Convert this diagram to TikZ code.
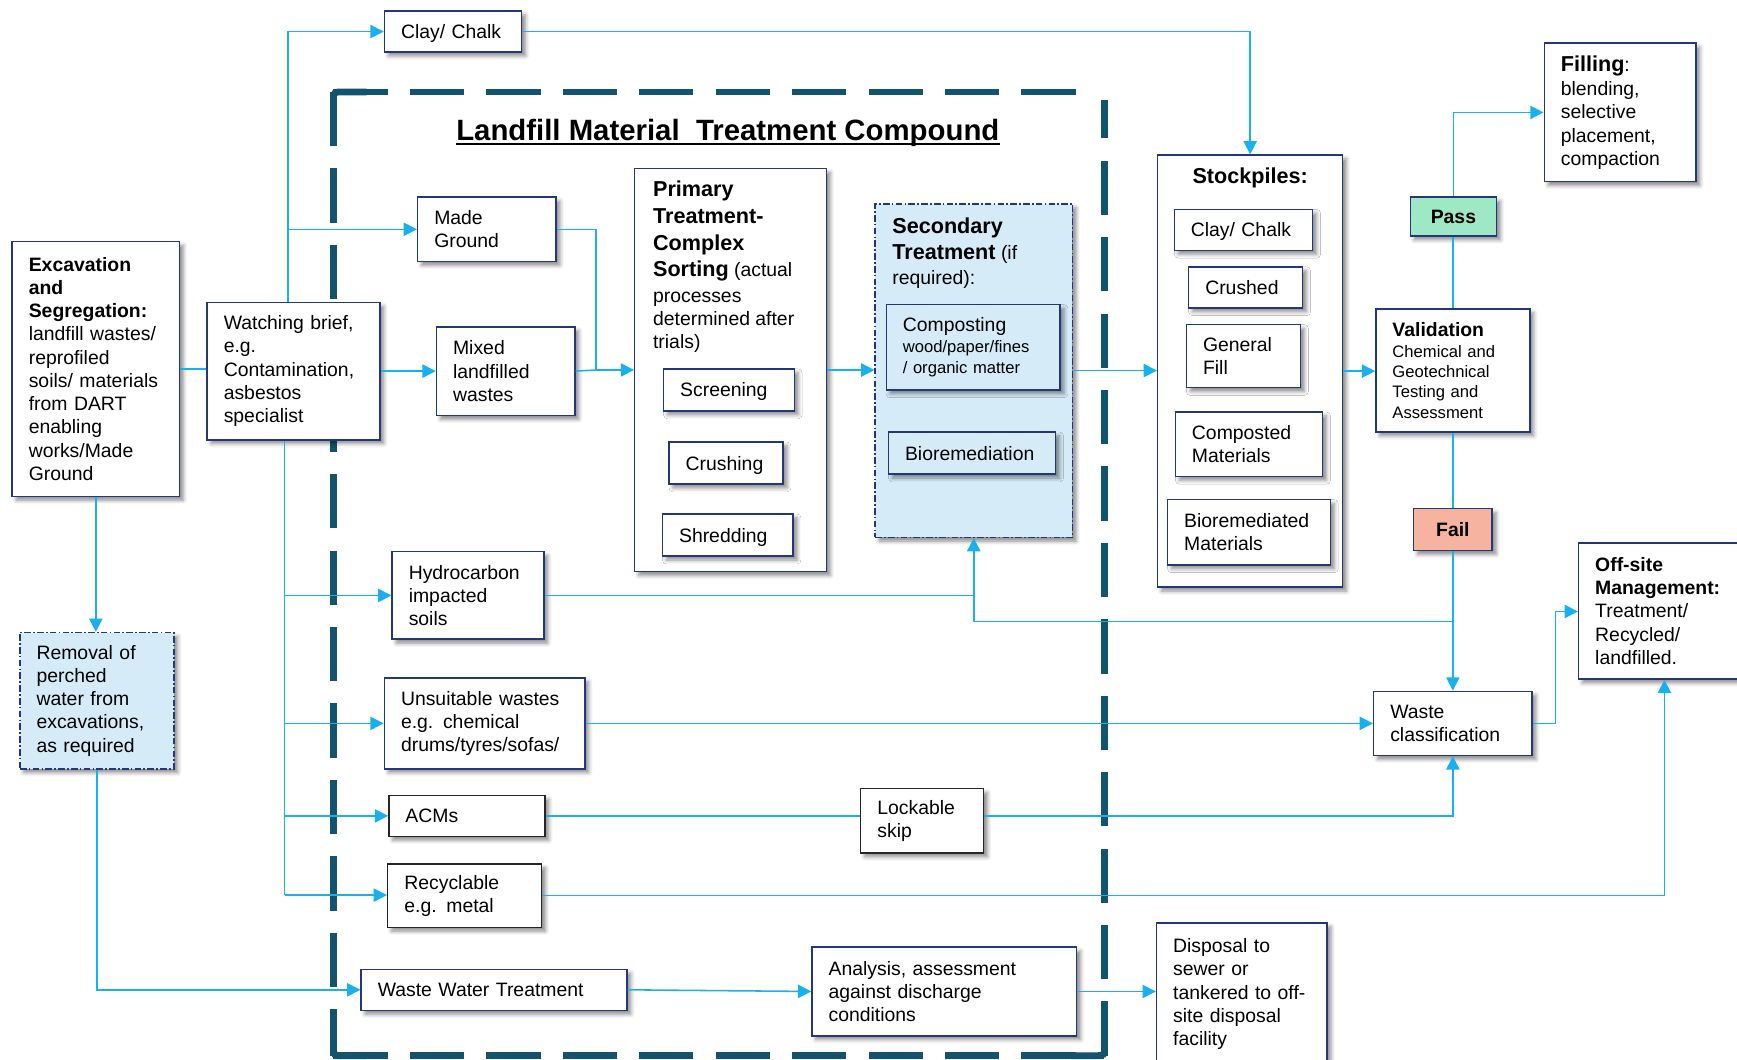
\documentclass[tikz,border=0pt]{standalone}
\usepackage{fontspec}
\setmainfont{Liberation Sans}
\usetikzlibrary{arrows.meta,shadows.blur,calc}
\definecolor{lineblue}{RGB}{25,176,240}
\definecolor{navy}{RGB}{35,55,125}
\definecolor{compdark}{RGB}{18,84,112}
\definecolor{secfill}{RGB}{213,236,248}
\definecolor{passfill}{RGB}{158,232,198}
\definecolor{failfill}{RGB}{246,180,160}
\newcommand\mybox[7][]{%
  \pgfmathsetmacro\mbW{#5-#3}%
  \pgfmathsetmacro\mbH{#6-#4}%
  \pgfmathsetmacro\mbT{#5-#3-30}%
  \pgfmathsetmacro\mbX{(#3+#5)/2}%
  \pgfmathsetmacro\mbY{(#4+#6)/2}%
  \node[box,minimum width=\mbW pt,minimum height=\mbH pt,text width=\mbT pt,#1] (#2) at (\mbX,\mbY) {#7};}
\tikzset{
  box/.style={draw=navy, line width=1.3pt, fill=white, align=left, inner xsep=15pt, inner ysep=1pt,
    font=\fontsize{17.5}{21}\selectfont,
    blur shadow={shadow xshift=3.5pt,shadow yshift=-3.5pt,shadow blur radius=3.5pt,shadow opacity=45}},
  one/.style={text depth=0pt},
  blk/.style={draw=black!85},
  ddash/.style={dash pattern=on 6pt off 2pt on 1.5pt off 2pt},
  conn/.style={draw=lineblue, line width=1.4pt},
  arr/.style={conn, -{Triangle[length=12pt,width=12pt]}},
  lbl/.style={inner sep=0pt, align=left, anchor=north west, font=\fontsize{17.5}{21}\selectfont},
  bigb/.style={font=\fontsize{19.5}{24}\selectfont\bfseries},
  cside/.style={draw=compdark, line width=6pt, dash pattern=on 49pt off 20pt},
  ccorner/.style={draw=compdark, line width=6pt, rounded corners=4pt}
}
\begin{document}
\begin{tikzpicture}[x=1pt,y=-1pt]
\useasboundingbox (0,0) rectangle (1568,956);
\clip (0,0) rectangle (1568,956);
% compound border
\coordinate (ctl) at (301,83);
\coordinate (ctr) at (985,83);
\coordinate (cbl) at (301,953);
\coordinate (cbr) at (997,953);
\coordinate (crt) at (997,90);
\draw[cside] (ctl) -- (ctr);
\draw[cside] (ctl) -- (cbl);
\draw[cside] (cbl) -- (cbr);
\draw[cside] (cbr) -- (crt);
\draw[ccorner] ($(ctl)+(0,30)$) -- (ctl) -- ($(ctl)+(30,0)$);
\draw[ccorner] ($(cbl)+(0,-30)$) -- (cbl) -- ($(cbl)+(30,0)$);
\draw[ccorner] ($(cbr)+(0,-30)$) -- (cbr) -- ($(cbr)+(-30,0)$);
\node[inner sep=0pt, anchor=base, font=\fontsize{26.5}{30}\selectfont\bfseries] (title) at (657,126.5) {Landfill Material\ \ Treatment Compound};
\draw[line width=2pt] ([yshift=-3.5pt]title.base west) -- ([yshift=-3.5pt]title.base east);

% boxes
\mybox[one]{cc1}{347}{10}{471}{47}{Clay/ Chalk}
\mybox{exc}{11}{218}{162}{448}{\textbf{Excavation}\\\textbf{and}\\\textbf{Segregation:}\\landfill wastes/\\reprofiled\\soils/ materials\\from DART\\enabling\\works/Made\\Ground}
\mybox{wb}{187}{273}{343}{397}{Watching brief,\\e.g.\\Contamination,\\asbestos\\specialist}
\mybox{mg}{377}{178}{502}{236}{Made\\Ground}
\mybox{mix}{394}{295}{519}{375}{Mixed\\landfilled\\wastes}
\mybox{prim}{573}{152}{746}{516}{}
\mybox[one]{scr}{599}{333}{717}{371}{Screening}
\mybox[one]{cru}{604}{399}{707}{437}{Crushing}
\mybox[one]{shr}{598}{464}{716}{502}{Shredding}
\mybox[fill=secfill,ddash]{sec}{790}{184}{968}{485}{}
\mybox[fill=secfill,font=\fontsize{15}{19}\selectfont]{comp}{800}{275}{957}{352}{{\fontsize{17.5}{21}\selectfont Composting}\\wood/paper/fines\\/ organic matter}
\mybox[fill=secfill,one]{bio}{802}{390}{953}{428}{Bioremediation}
\mybox{stk}{1045}{140}{1212}{530}{}
\mybox[one]{s1}{1060}{189}{1185}{226}{Clay/ Chalk}
\mybox[one]{s2}{1073}{241}{1176}{278}{Crushed}
\mybox{s3}{1071}{293}{1174}{350}{General\\Fill}
\mybox{s4}{1061}{372}{1194}{430}{Composted\\Materials}
\mybox{s5}{1054}{451}{1201}{510}{Bioremediated\\Materials}
\mybox[font=\fontsize{15}{18.5}\selectfont]{val}{1242}{279}{1381}{390}{{\fontsize{17.5}{21}\selectfont\bfseries Validation}\\Chemical and\\Geotechnical\\Testing and\\Assessment}
\mybox[fill=passfill,align=center,one,font=\fontsize{17.5}{21}\selectfont\bfseries]{pass}{1273}{178}{1351}{213}{Pass}
\mybox[fill=failfill,align=center,one,font=\fontsize{17.5}{21}\selectfont\bfseries]{fail}{1276}{459}{1347}{497}{Fail}
\mybox{fill}{1394}{39}{1531}{164}{{\fontsize{19.5}{21}\selectfont\bfseries Filling}:\\[1pt]blending,\\selective\\placement,\\compaction}
\mybox{off}{1425}{490}{1580}{613}{\textbf{Off-site}\\\textbf{Management:}\\Treatment/\\Recycled/\\landfilled.}
\mybox{wc}{1240}{624}{1383}{682}{Waste\\classification}
\mybox{hyd}{354}{498}{491}{577}{Hydrocarbon\\impacted\\soils}
\mybox{uns}{347}{612}{528}{694}{Unsuitable wastes\\e.g. chemical\\drums/tyres/sofas/}
\mybox[blk,one]{acm}{351}{718}{492}{755}{ACMs}
\mybox[blk]{lock}{777}{712}{888}{770}{Lockable\\skip}
\mybox[blk]{rec}{350}{780}{489}{837}{Recyclable\\e.g. metal}
\mybox[one]{wwt}{326}{875}{566}{912}{Waste Water Treatment}
\mybox{ana}{733}{855}{972}{935}{Analysis, assessment\\against discharge\\conditions}
\mybox{dis}{1044}{833}{1198}{962}{Disposal to\\sewer or\\tankered to off-\\site disposal\\facility}
\mybox[fill=secfill,ddash]{rem}{18}{571}{157}{694}{Removal of\\perched\\water from\\excavations,\\as required}

% labels inside group boxes
\node[lbl] (primlbl) at ($(prim.north west)+(17,12)$) {{\fontsize{19.5}{24}\selectfont\bfseries Primary}\\[3pt]{\fontsize{19.5}{24}\selectfont\bfseries Treatment-}\\[3pt]{\fontsize{19.5}{24}\selectfont\bfseries Complex}\\[3pt]{\fontsize{19.5}{24}\selectfont\bfseries Sorting} (actual\\[2pt]processes\\determined after\\trials)};
\node[lbl] (seclbl) at ($(sec.north west)+(16,13)$) {{\fontsize{19.5}{24}\selectfont\bfseries Secondary}\\[3pt]{\fontsize{19.5}{24}\selectfont\bfseries Treatment} (if\\[1pt]required):};
\node[inner sep=0pt, bigb] (stklbl) at ($(stk.north)+(0,21)$) {Stockpiles:};

% junction coordinates
\coordinate (jA) at (260,28);
\coordinate (jB) at (538,334);
\coordinate (jC) at (257,808);
\coordinate (jD) at (878,561);
\coordinate (jE) at (1404,552);

% connectors
\draw[conn] (exc.east) -- (exc.east -| wb.west);
\draw[arr] (exc.south) -- (exc.south |- rem.north);
\draw[arr] (rem.south) |- (wwt.west);
\draw[arr] (wb.north -| jA) |- (cc1.west);
\draw[arr] (jA |- mg.west) -- (mg.west);
\draw[arr] (wb.east) -- (wb.east -| mix.west);
\draw[conn] (mg.east) -| (jB);
\draw[conn] (mix.east) -- (jB);
\draw[arr] (jB) -- (jB -| prim.west);
\draw[conn] (wb.south -| jC) -- (jC);
\draw[arr] (jC |- hyd.west) -- (hyd.west);
\draw[arr] (jC |- uns.west) -- (uns.west);
\draw[arr] (jC |- acm.west) -- (acm.west);
\draw[arr] (jC) -- (jC -| rec.west);
\draw[arr] (cc1.east) -| (stk.north);
\draw[arr] (prim.east) -- (prim.east -| sec.west);
\draw[arr] (sec.east) -- (sec.east -| stk.west);
\draw[arr] (stk.east) -- (stk.east -| val.west);
\draw[conn] (val.north) -- (val.north |- pass.south);
\draw[arr] (pass.north) |- (fill.west);
\draw[conn] (val.south) -- (val.south |- fail.north);
\draw[arr] (fail.south) -- (fail.south |- wc.north);
\draw[arr] (fail.south |- jD) -| (sec.south);
\draw[conn] (hyd.east) -- (hyd.east -| sec.south);
\draw[arr] (uns.east) -- (uns.east -| wc.west);
\draw[conn] (acm.east) -- (acm.east -| lock.west);
\draw[arr] (lock.east |- acm.east) -| (wc.south);
\draw[arr] (rec.east) -| (off.south);
\draw[conn] (wc.east) -| (jE);
\draw[arr] (jE) -- (jE -| off.west);
\draw[arr] (wwt.east) -- (ana.west);
\draw[arr] (ana.east) -- (ana.east -| dis.west);
\end{tikzpicture}
\end{document}
